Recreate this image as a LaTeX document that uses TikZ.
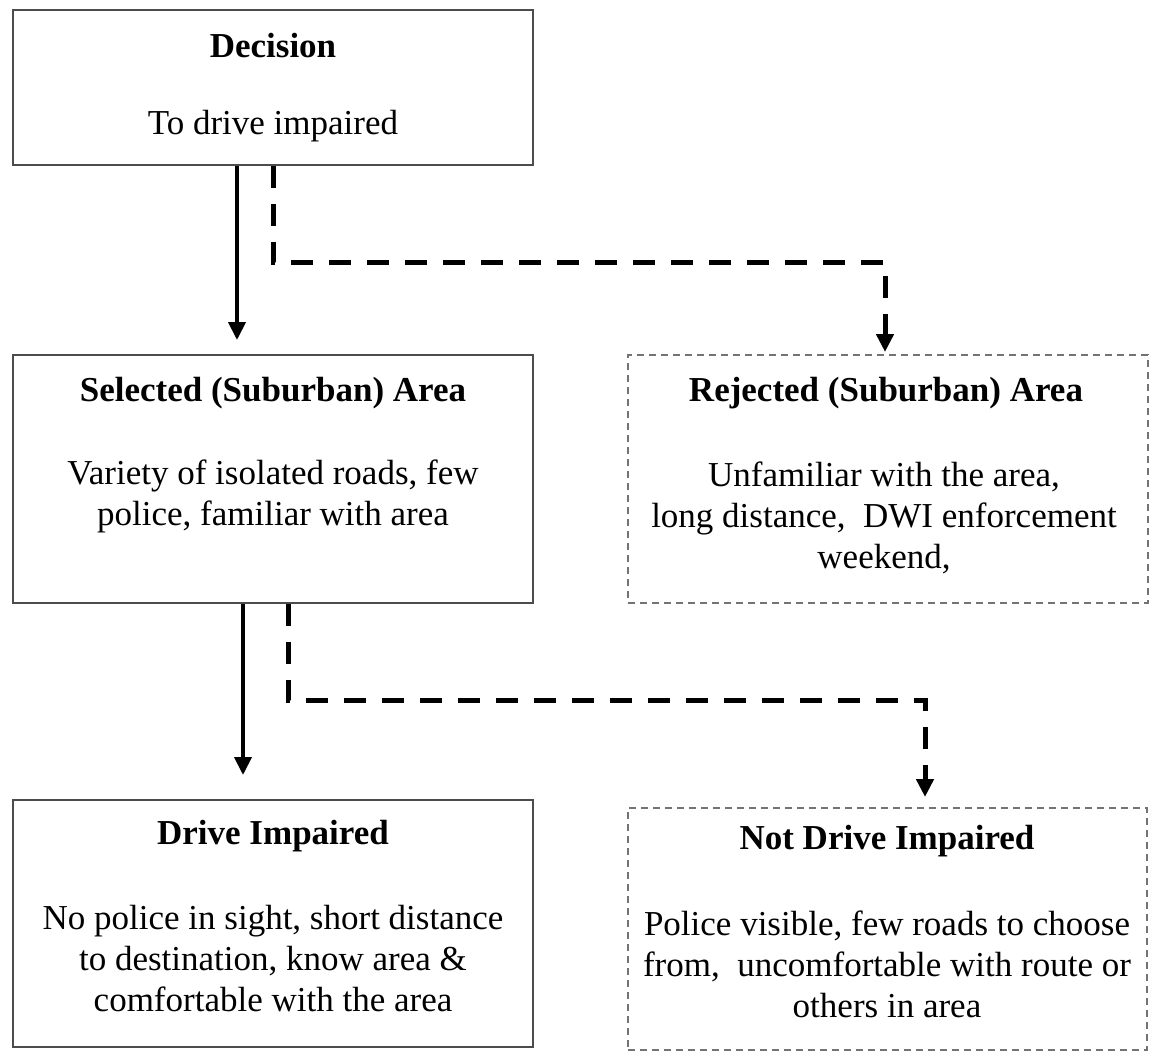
\documentclass[tikz,border=0pt]{standalone}
\usepackage{fontspec}
\setmainfont{Liberation Serif}
\usetikzlibrary{arrows.meta}
\begin{document}
\begin{tikzpicture}[x=1pt,y=-1pt,
 box/.style={draw=black!70, line width=1.6pt, rectangle, inner sep=0pt},
 dbox/.style={draw=black!55, line width=1.6pt, dash pattern=on 7pt off 5pt, rectangle, inner sep=0pt},
 ttl/.style={font=\fontsize{35}{41}\selectfont\bfseries, inner sep=0pt},
 body/.style={font=\fontsize{35}{41}\selectfont, align=center, inner sep=0pt},
 solidarr/.style={line width=4pt, -{Triangle[width=17pt,length=18pt]}},
 dasharr/.style={line width=5pt, dash pattern=on 22pt off 16pt, -{Triangle[width=17pt,length=18pt]}},
]
\useasboundingbox (0,0) rectangle (1151,1057);
% boxes
\node[box, minimum width=520pt, minimum height=155pt] (dec) at (273,87.5) {};
\node[box, minimum width=520pt, minimum height=248pt] (sel) at (273,479) {};
\node[dbox, minimum width=520pt, minimum height=248pt] (rej) at (888,479) {};
\node[box, minimum width=520pt, minimum height=247pt] (drv) at (273,923.5) {};
\node[dbox, minimum width=519pt, minimum height=242pt] (ndr) at (887.5,929) {};
% texts
\node[ttl] (dect) at (273,46) {Decision};
\node[body] (decb) at (273,126) {To drive impaired};
\node[ttl] (selt) at (273,393) {Selected (Suburban) Area};
\node[body] (selb) at (273,496) {Variety of isolated roads, few\\police, familiar with area};
\node[ttl] (rejt) at (886,393) {Rejected (Suburban) Area};
\node[body] (rejb) at (884,518) {Unfamiliar with the area,\\long distance,\ \ DWI enforcement\\weekend,};
\node[ttl] (drvt) at (273,836) {Drive Impaired};
\node[body] (drvb) at (273,959) {No police in sight, short distance\\to destination, know area \&\\comfortable with the area};
\node[ttl] (ndrt) at (887,841) {Not Drive Impaired};
\node[body] (ndrb) at (887,964) {Police visible, few roads to choose\\from,\ \ uncomfortable with route or\\others in area};
% connectors
\coordinate (a1) at (237,340);
\coordinate (k1) at (273,262);
\coordinate (e1) at (885,352);
\coordinate (a2) at (243,775);
\coordinate (k2) at (288,700);
\coordinate (e2) at (925,797);
\draw[solidarr] (dec.south -| a1) -- (a1);
\draw[dasharr] (dec.south -| k1) -- (k1) -- (k1 -| e1) -- (e1);
\draw[solidarr] (sel.south -| a2) -- (a2);
\draw[dasharr] (sel.south -| k2) -- (k2) -- (k2 -| e2) -- (e2);
\end{tikzpicture}
\end{document}
